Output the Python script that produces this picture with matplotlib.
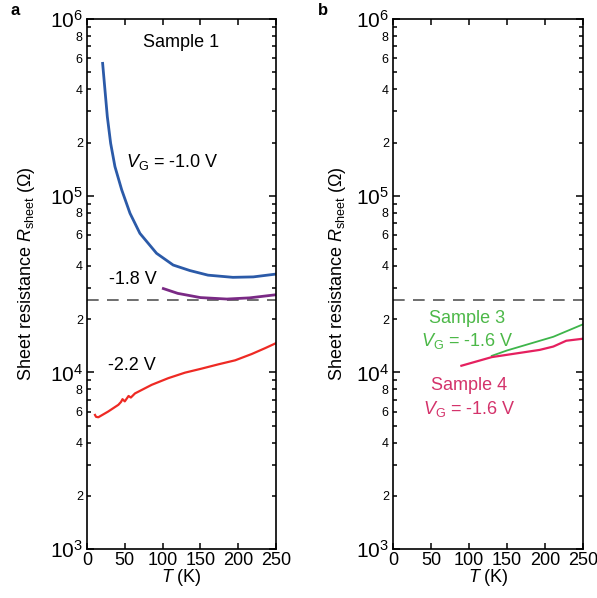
import numpy as np
import matplotlib.pyplot as plt
from matplotlib.ticker import FixedLocator, FixedFormatter

plt.rcParams['font.family'] = ['Liberation Sans', 'DejaVu Sans']
plt.rcParams['mathtext.fontset'] = 'custom'
plt.rcParams['mathtext.rm'] = 'Liberation Sans'
plt.rcParams['mathtext.it'] = 'Liberation Sans:italic'

# Sample 1, VG = -1.0 V
t_10 = [20.7, 23.8, 26.9, 31.3, 37, 45.9, 56.9, 70, 92, 114, 136, 160, 193, 220, 250]
r_10 = [5.61e5, 3.96e5, 2.8e5, 1.98e5, 1.46e5, 1.08e5, 7.95e4, 6.12e4, 4.72e4, 4.05e4, 3.77e4,
        3.55e4, 3.45e4, 3.47e4, 3.6e4]
# Sample 1, VG = -1.8 V
t_18 = [101, 120, 150, 185, 215, 250]
r_18 = [2.98e4, 2.8e4, 2.65e4, 2.6e4, 2.64e4, 2.75e4]
# Sample 1, VG = -2.2 V
t_22 = [10.6, 12, 15, 28, 41.5, 45, 47, 50, 55, 58, 63.5, 85.6, 107.5, 129.6, 151.7, 173.7,
        196, 217.9, 235.5, 251]
r_22 = [5.74e3, 5.6e3, 5.57e3, 6.0e3, 6.55e3, 6.8e3, 7.05e3, 6.85e3, 7.35e3, 7.2e3, 7.6e3,
        8.5e3, 9.27e3, 9.96e3, 1.05e4, 1.11e4, 1.17e4, 1.27e4, 1.37e4, 1.47e4]
# Sample 3 and 4, VG = -1.6 V
t_s3 = [130, 150, 211, 250]
r_s3 = [1.24e4, 1.33e4, 1.59e4, 1.87e4]
t_s4 = [90, 130, 193, 211, 228, 250]
r_s4 = [1.09e4, 1.22e4, 1.34e4, 1.40e4, 1.51e4, 1.55e4]

r_q = 25.8e3  # h/e^2

fig = plt.figure(figsize=(5.97, 5.98), dpi=100)
ax_a = fig.add_axes([0.1457, 0.0819, 0.3166, 0.8863])
ax_b = fig.add_axes([0.6583, 0.0819, 0.3182, 0.8863])

for ax in (ax_a, ax_b):
    ax.set_yscale('log')
    ax.set_xlim(0, 250)
    ax.set_ylim(1e3, 1e6)
    ax.axhline(r_q, color='#555555', lw=1.2, dashes=(7, 5))
    ax.set_xticks([0, 50, 100, 150, 200, 250])
    ax.yaxis.set_major_locator(FixedLocator([1e3, 1e4, 1e5, 1e6]))
    ax.yaxis.set_major_formatter(FixedFormatter([r'$10^3$', r'$10^4$', r'$10^5$', r'$10^6$']))
    minors = [m * 10.0**e for e in (3, 4, 5) for m in range(2, 10)]
    ax.yaxis.set_minor_locator(FixedLocator(minors))
    ax.yaxis.set_minor_formatter(FixedFormatter([str(m) if m in (2, 4, 6, 8) else ''
                                                 for e in (3, 4, 5) for m in range(2, 10)]))
    ax.tick_params(axis='both', which='both', direction='in', top=True, right=True, width=1.1)
    ax.tick_params(axis='y', which='major', length=5, labelsize=15, pad=3)
    ax.tick_params(axis='y', which='minor', length=3, labelsize=9, pad=3)
    ax.tick_params(axis='x', which='major', length=4, labelsize=13, pad=2)
    for s in ax.spines.values():
        s.set_linewidth(1.2)
    ax.set_xlabel(r'$T$ (K)', fontsize=13, labelpad=-1)
    ax.set_ylabel(r'Sheet resistance $R_{\mathrm{sheet}}$ ($\Omega$)', fontsize=13)

ax_a.yaxis.set_label_coords(-0.262, 0.52)
ax_b.yaxis.set_label_coords(-0.235, 0.52)

ax_a.plot(t_10, r_10, color='#2b5aa8', lw=2, solid_joinstyle='round')
ax_a.plot(t_18, r_18, color='#7a2a85', lw=2, solid_joinstyle='round')
ax_a.plot(t_22, r_22, color='#ee2a24', lw=1.6, solid_joinstyle='round')
ax_a.text(0.5, 0.955, 'Sample 1', transform=ax_a.transAxes, ha='center', va='center', fontsize=13)
ax_a.text(52, 1.55e5, r'$V_{\mathrm{G}}$ = -1.0 V', fontsize=13, va='center')
ax_a.text(29, 3.35e4, '-1.8 V', fontsize=13, va='center')
ax_a.text(28, 1.1e4, '-2.2 V', fontsize=13, va='center')

ax_b.plot(t_s3, r_s3, color='#3db54a', lw=1.3)
ax_b.plot(t_s4, r_s4, color='#e5205f', lw=1.6)
ax_b.text(98, 2.03e4, 'Sample 3', fontsize=13, va='center', ha='center', color='#4cb848')
ax_b.text(98, 1.5e4, r'$V_{\mathrm{G}}$ = -1.6 V', fontsize=13, va='center', ha='center', color='#4cb848')
ax_b.text(100, 8.4e3, 'Sample 4', fontsize=13, va='center', ha='center', color='#d4336b')
ax_b.text(100, 6.2e3, r'$V_{\mathrm{G}}$ = -1.6 V', fontsize=13, va='center', ha='center', color='#d4336b')

fig.text(0.017, 0.982, 'a', fontsize=12, fontweight='bold', va='center')
fig.text(0.532, 0.982, 'b', fontsize=12, fontweight='bold', va='center')

fig.savefig('out.png', dpi=100)
